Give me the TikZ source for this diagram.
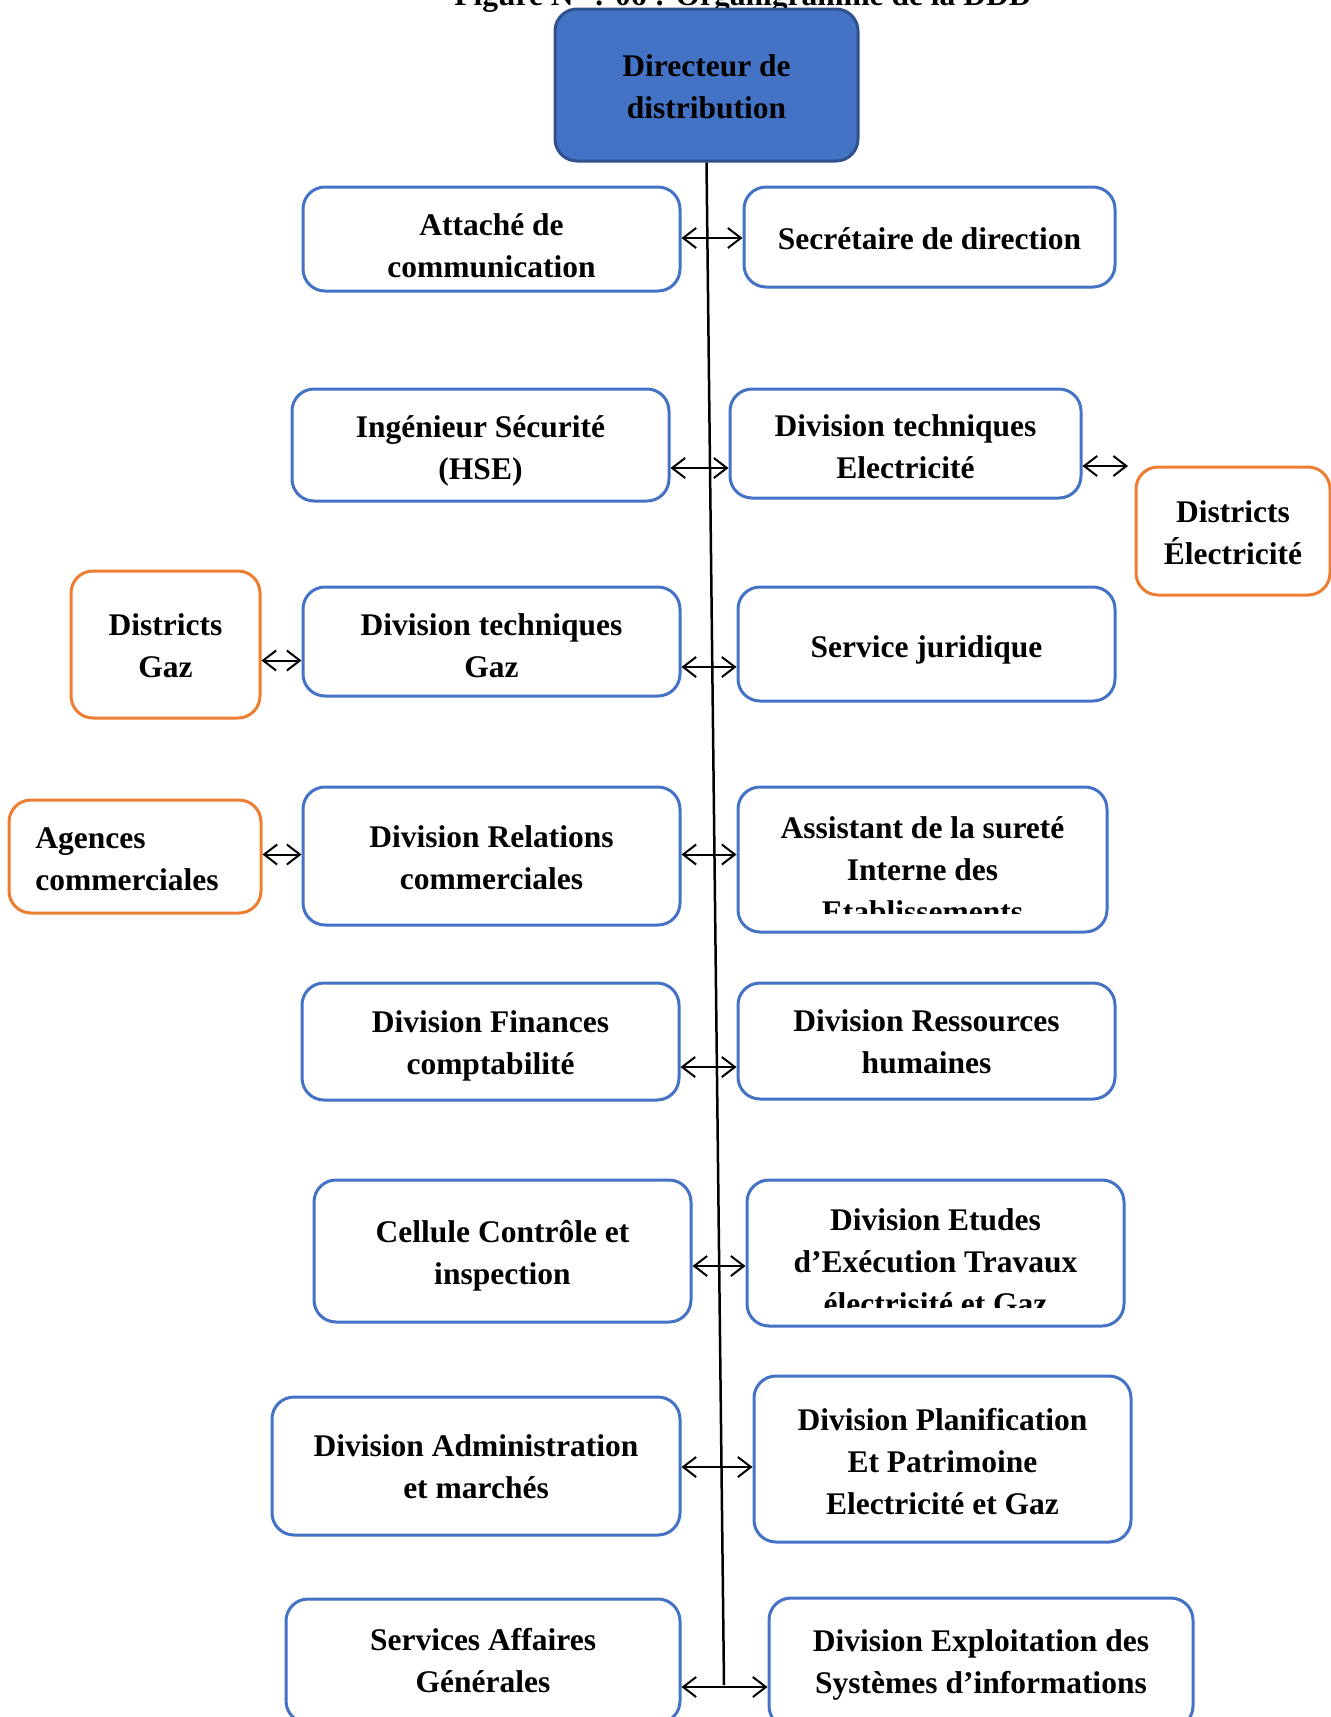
\documentclass[tikz,border=0pt]{standalone}
\usepackage{fontspec}
\setmainfont{Liberation Serif}
\usetikzlibrary{arrows.meta}
\definecolor{boxblue}{HTML}{4472C4}
\definecolor{darkblue}{HTML}{2F528F}
\definecolor{boxorange}{HTML}{ED7D31}
\begin{document}
\begin{tikzpicture}[x=1pt,y=-1pt,
  txt/.style={font=\fontsize{31.5}{42}\selectfont\bfseries, align=center, inner sep=0pt},
  box/.style={draw=boxblue, fill=white, line width=3pt, rounded corners=22pt, inner sep=0pt},
  obox/.style={box, draw=boxorange},
  topbox/.style={box, draw=darkblue, fill=boxblue},
  biarrow/.style={line width=2pt, {Straight Barb[length=13pt,width=20pt]}-{Straight Barb[length=13pt,width=20pt]}},
  mainline/.style={line width=2.5pt}
]
\useasboundingbox (0,0) rectangle (1331,1717);
\clip (0,0) rectangle (1331,1717);

% title (cut off at top)
\node[txt, anchor=base] (title) at (743,5) {Figure N° : 06 : Organigramme de la DDD};

% director
\node[topbox, minimum width=303pt, minimum height=152pt,
  label={[txt, yshift=-1.5pt]center:{Directeur de\\distribution}}] (dir) at (706.5,85) {};
\coordinate (lineEnd) at (724,1685);
\draw[mainline] (dir.south) -- (lineEnd);

% row 1
\node[box, minimum width=377pt, minimum height=104pt,
  label={[txt, yshift=-6.5pt]center:{Attaché de\\communication}}] (att) at (491.5,239) {};
\node[box, minimum width=371pt, minimum height=100pt,
  label={[txt, yshift=-2pt]center:{Secrétaire de direction}}] (sec) at (929.5,237) {};

% row 2
\node[box, minimum width=377pt, minimum height=112pt,
  label={[txt, yshift=-6pt]center:{Ingénieur Sécurité\\(HSE)}}] (hse) at (480.5,445) {};
\node[box, minimum width=351pt, minimum height=109pt,
  label={[txt, yshift=-3.3pt]center:{Division techniques\\Electricité}}] (dte) at (905.5,443.5) {};
\node[obox, minimum width=194pt, minimum height=128pt,
  label={[txt, yshift=-2pt]center:{Districts\\Électricité}}] (de) at (1233,531) {};

% row 3
\node[obox, minimum width=189pt, minimum height=147pt,
  label={[txt, yshift=-1pt]center:{Districts\\Gaz}}] (dg) at (165.5,644.5) {};
\node[box, minimum width=377pt, minimum height=109pt,
  label={[txt, yshift=-4.4pt]center:{Division techniques\\Gaz}}] (dtg) at (491.5,641.5) {};
\node[box, minimum width=377pt, minimum height=114pt,
  label={[txt, yshift=-5.5pt]center:{Service juridique}}] (sj) at (926.5,644) {};

% row 4
\node[obox, minimum width=252pt, minimum height=113pt,
  label={[txt, align=left, yshift=-3pt, xshift=-8pt]center:{Agences\\commerciales}}] (ac) at (135,856.5) {};
\node[box, minimum width=377pt, minimum height=138pt,
  label={[txt, yshift=-1.5pt]center:{Division Relations\\commerciales}}] (drc) at (491.5,856) {};
\node[box, minimum width=369pt, minimum height=145pt] (asi) at (922.5,859.5) {};
\begin{scope}
  \clip (738,787) rectangle (1107,913);
  \node[txt] (asiT) at (922.5,869.3) {Assistant de la sureté\\Interne des\\Etablissements};
\end{scope}

% row 5
\node[box, minimum width=377pt, minimum height=117pt,
  label={[txt, yshift=-4.4pt]center:{Division Finances\\comptabilité}}] (dfc) at (490.5,1041.5) {};
\node[box, minimum width=377pt, minimum height=116pt,
  label={[txt, yshift=-1pt]center:{Division Ressources\\humaines}}] (drh) at (926.5,1041) {};

% row 6
\node[box, minimum width=377pt, minimum height=142pt,
  label={[txt, yshift=-5pt]center:{Cellule Contrôle et\\inspection}}] (cci) at (502.5,1251) {};
\node[box, minimum width=377pt, minimum height=146pt] (det) at (935.5,1253) {};
\begin{scope}
  \clip (747,1180) rectangle (1124,1307);
  \node[txt] (detT) at (935.5,1261.3) {Division Etudes\\d’Exécution Travaux\\électrisité et Gaz};
\end{scope}

% row 7
\node[box, minimum width=408pt, minimum height=138pt,
  label={[txt, yshift=-1pt]center:{Division Administration\\et marchés}}] (dam) at (476,1466) {};
\node[box, minimum width=377pt, minimum height=166pt,
  label={[txt, yshift=-3pt]center:{Division Planification\\Et Patrimoine\\Electricité et Gaz}}] (dpp) at (942.5,1459) {};

% row 8
\node[box, minimum width=394pt, minimum height=124pt,
  label={[txt]center:{Services Affaires\\Générales}}] (sag) at (483,1661) {};
\node[box, minimum width=424pt, minimum height=130pt,
  label={[txt, yshift=-2pt]center:{Division Exploitation des\\Systèmes d’informations}}] (dex) at (981,1663) {};

% arrow heights
\coordinate (y1) at (0,238);
\coordinate (y2) at (0,468);
\coordinate (y2e) at (0,466);
\coordinate (y3a) at (0,660.5);
\coordinate (y3) at (0,667);
\coordinate (y4) at (0,854.5);
\coordinate (y5) at (0,1067);
\coordinate (y6) at (0,1266);
\coordinate (y7) at (0,1467);
\coordinate (y8) at (0,1687);
\coordinate (deTip) at (1128,466);

\draw[biarrow] (att.east |- y1) -- (sec.west |- y1);
\draw[biarrow] (hse.east |- y2) -- (dte.west |- y2);
\draw[biarrow] (dte.east |- y2e) -- (deTip);
\draw[biarrow] (dg.east |- y3a) -- (dtg.west |- y3a);
\draw[biarrow] (dtg.east |- y3) -- (sj.west |- y3);
\draw[biarrow] (ac.east |- y4) -- (drc.west |- y4);
\draw[biarrow] (drc.east |- y4) -- (asi.west |- y4);
\draw[biarrow] (dfc.east |- y5) -- (drh.west |- y5);
\draw[biarrow] (cci.east |- y6) -- (det.west |- y6);
\draw[biarrow] (dam.east |- y7) -- (dpp.west |- y7);
\draw[biarrow] (sag.east |- y8) -- (dex.west |- y8);
\end{tikzpicture}
\end{document}
